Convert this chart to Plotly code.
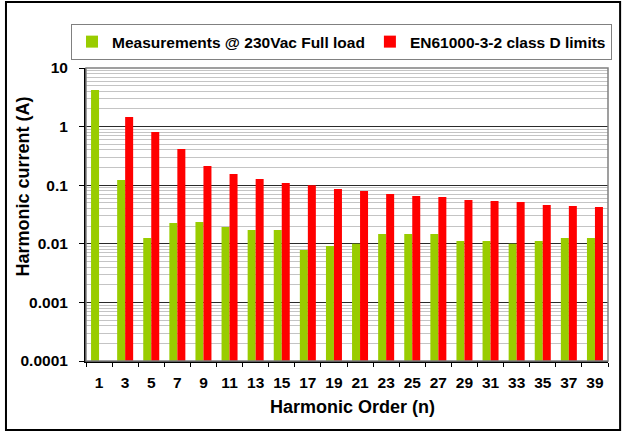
import plotly.graph_objects as go

harmonics = ["1", "3", "5", "7", "9", "11", "13", "15", "17", "19",
             "21", "23", "25", "27", "29", "31", "33", "35", "37", "39"]
measured = [4.2, 0.123, 0.0126, 0.0226, 0.0236, 0.0194, 0.0172, 0.0172, 0.0078, 0.0092,
            0.0100, 0.0147, 0.0147, 0.0147, 0.0112, 0.0112, 0.0100, 0.0112, 0.0126, 0.0126]
limits = [None, 1.46, 0.81, 0.415, 0.213, 0.155, 0.128, 0.109, 0.0995, 0.086,
          0.0796, 0.0708, 0.0655, 0.063, 0.0559, 0.0537, 0.0517, 0.046, 0.0442, 0.0425]
ytick_vals = [0.0001, 0.001, 0.01, 0.1, 1, 10]
ytick_text = ["0.0001", "0.001", "0.01", "0.1", "1", "10"]

FONT = "Liberation Sans, Arial, sans-serif"

fig = go.Figure()
fig.add_trace(go.Bar(x=harmonics, y=measured, name="Measurements @ 230Vac Full load",
                     marker=dict(color="#99cc00", line=dict(width=0))))
fig.add_trace(go.Bar(x=harmonics, y=limits, name="EN61000-3-2 class D limits",
                     marker=dict(color="#ff0000", line=dict(width=0))))

fig.update_layout(
    width=622, height=432,
    margin=dict(l=86, r=14, t=68, b=71),
    paper_bgcolor="white", plot_bgcolor="white",
    barmode="group", bargap=0.387, bargroupgap=0,
    font=dict(family=FONT, color="black"),
    showlegend=True,
    legend=dict(orientation="h", x=-0.0287, xanchor="left", y=1.150, yanchor="top",
                bordercolor="#808080", borderwidth=1,
                font=dict(family=FONT, size=15.5, color="black", weight="bold"),
                bgcolor="white"),
    xaxis=dict(type="category", showline=True, linecolor="black", linewidth=2,
               ticks="outside", tickson="boundaries", ticklen=4, tickcolor="black",
               tickwidth=1, ticklabelstandoff=6, tickangle=0,
               tickfont=dict(size=15.5, weight="bold", family=FONT),
               showgrid=False),
    yaxis=dict(type="log", range=[-4, 1], showline=True, linecolor="black", linewidth=2,
               tickvals=ytick_vals, ticktext=ytick_text,
               ticks="outside", ticklen=5, tickcolor="black", ticklabelstandoff=8,
               tickfont=dict(size=15.5, weight="bold", family=FONT),
               showgrid=True, gridcolor="#2a2a2a", gridwidth=1,
               minor=dict(dtick="D1", showgrid=True, gridcolor="#c4c4c4", gridwidth=1,
                          ticks=""),
               zeroline=False),
    shapes=[
        dict(type="rect", xref="paper", yref="paper", x0=0, x1=1, y0=0, y1=1,
             line=dict(color="#808080", width=1.5), layer="above"),
        dict(type="rect", xref="paper", yref="paper", x0=-0.1533, x1=1.0232,
             y0=-0.2355, y1=1.2253, line=dict(color="black", width=2)),
    ],
    annotations=[
        dict(text="<b>Harmonic Order (n)</b>", xref="paper", yref="paper",
             x=0.5105, y=-0.157, showarrow=False, font=dict(size=18, family=FONT),
             xanchor="center", yanchor="middle"),
        dict(text="<b>Harmonic current (A)</b>", xref="paper", yref="paper",
             x=-0.1216, y=0.594, showarrow=False, textangle=-90,
             font=dict(size=18, family=FONT), xanchor="center", yanchor="middle"),
    ],
)

fig.write_html("out.html", config={"displayModeBar": False},
               post_script="document.body.style.margin='0';")
